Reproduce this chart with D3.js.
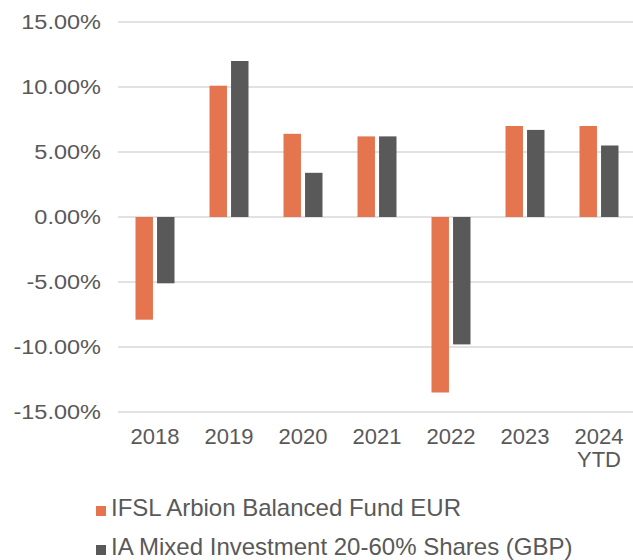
<!DOCTYPE html>
<html>
<head>
<meta charset="utf-8">
<script src="https://cdn.jsdelivr.net/npm/d3@7"></script>
<style>
  body { margin: 0; background: #fff; }
  text { font-family: "Liberation Sans", Arial, sans-serif; fill: #595959; }
</style>
</head>
<body>
<div id="chart"></div>
<script>
// chart data
const years = ["2018", "2019", "2020", "2021", "2022", "2023", "2024\nYTD"];
const seriesNames = ["IFSL Arbion Balanced Fund EUR", "IA Mixed Investment 20-60% Shares (GBP)"];
const fundReturns = [-7.9, 10.1, 6.4, 6.2, -13.5, 7.0, 7.0];
const sectorReturns = [-5.1, 12.0, 3.4, 6.2, -9.8, 6.7, 5.5];
const yTicks = [-15, -10, -5, 0, 5, 10, 15];
const colors = ["#E4754F", "#595959"];

const width = 633, height = 560;
const margin = { top: 22, right: 0, bottom: 148, left: 118 };

// plain hyphen for negatives, like the original
const pct = d3.formatLocale({ decimal: ".", thousands: ",", grouping: [3], currency: ["", ""], minus: "-" }).format(".2f");

const svg = d3.select("#chart").append("svg")
    .attr("width", width)
    .attr("height", height);

const y = d3.scaleLinear()
    .domain([-15, 15])
    .range([412, 22]);

const x0 = d3.scaleBand()
    .domain(years)
    .range([margin.left, 636]);

const x1 = d3.scaleBand()
    .domain(seriesNames)
    .range([17.5, x0.bandwidth() - 17.5])
    .paddingInner(0.19);

// gridlines + y labels
svg.append("g")
    .selectAll("line")
    .data(yTicks)
    .join("line")
    .attr("x1", margin.left)
    .attr("x2", width)
    .attr("y1", d => y(d))
    .attr("y2", d => y(d))
    .attr("stroke", "#D9D9D9")
    .attr("stroke-width", 1.5);

svg.append("g")
    .selectAll("text")
    .data(yTicks)
    .join("text")
    .attr("transform", d => `translate(101,${y(d)}) scale(1.12,1)`)
    .attr("dy", "0.35em")
    .attr("text-anchor", "end")
    .style("font-size", "21px")
    .text(d => pct(d) + "%");

// bars
const rows = years.map((yr, i) => ({ year: yr, values: [fundReturns[i], sectorReturns[i]] }));

const groups = svg.append("g")
    .selectAll("g")
    .data(rows)
    .join("g")
    .attr("transform", d => `translate(${x0(d.year)},0)`);

groups.selectAll("rect")
    .data(d => d.values.map((v, j) => ({ key: seriesNames[j], value: v, idx: j })))
    .join("rect")
    .attr("x", d => x1(d.key))
    .attr("width", x1.bandwidth())
    .attr("y", d => y(Math.max(0, d.value)))
    .attr("height", d => Math.abs(y(d.value) - y(0)))
    .attr("fill", d => colors[d.idx]);

// x labels
const xl = svg.append("g")
    .selectAll("text")
    .data(years)
    .join("text")
    .attr("text-anchor", "middle")
    .attr("x", d => x0(d) + x0.bandwidth() / 2)
    .attr("y", 444)
    .style("font-size", "22px");

xl.selectAll("tspan")
    .data(d => d.split("\n"))
    .join("tspan")
    .attr("x", function () { return d3.select(this.parentNode).attr("x"); })
    .attr("dy", (d, i) => i === 0 ? 0 : 23)
    .text(d => d);

// legend
const legend = svg.append("g")
    .selectAll("g")
    .data(seriesNames)
    .join("g")
    .attr("transform", (d, i) => `translate(96,${516 + i * 39})`);

legend.append("rect")
    .attr("x", 0)
    .attr("y", -10)
    .attr("width", 10)
    .attr("height", 10)
    .attr("fill", (d, i) => colors[i]);

legend.append("text")
    .attr("x", 15)
    .attr("y", 0)
    .style("font-size", "24px")
    .text(d => d);
</script>
</body>
</html>
